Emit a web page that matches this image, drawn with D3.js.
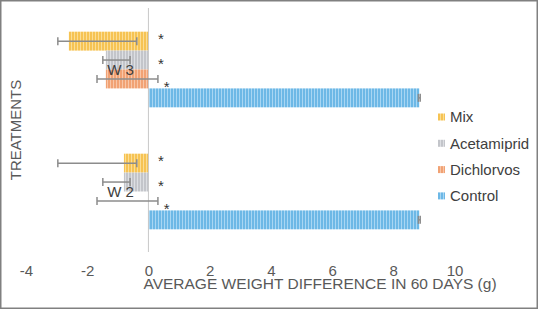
<!DOCTYPE html>
<html>
<head>
<meta charset="utf-8">
<script src="https://cdn.jsdelivr.net/npm/d3@7"></script>
<style>
body { margin: 0; background: #fff; }
text { font-family: "Liberation Sans", Arial, sans-serif; }
</style>
</head>
<body>
<div id="chart"></div>
<script>
// Data
var groups = ["W 3", "W 2"];
var series = ["Mix", "Acetamiprid", "Dichlorvos", "Control"];
var w3Values = [-2.6, -1.39, -1.39, 8.85];
var w2Values = [-0.8, -0.8, 0, 8.85];
var w3ErrLow = [-2.96, -1.49, -1.68, 8.82];
var w3ErrHigh = [-0.38, -0.6, 0.31, 8.88];
var w2ErrLow = [-2.96, -1.49, -1.68, 8.82];
var w2ErrHigh = [-0.38, -0.6, 0.31, 8.88];
var starX = [0.41, 0.41, 0.6];   // where the "*" labels sit (x units)
var tickValues = [-4, -2, 0, 2, 4, 6, 8, 10];

var seriesColor = ["#F6C353", "#C3C5CA", "#F1A274", "#6DB8E6"];
var stripeColor = ["#FBDD95", "#DDDFE3", "#F8C6A8", "#A8D6F3"];

var w = 538;
var h = 309;

var rows = [];
groups.forEach(function(g, gi) {
  var vals = gi == 0 ? w3Values : w2Values;
  var lo = gi == 0 ? w3ErrLow : w2ErrLow;
  var hi = gi == 0 ? w3ErrHigh : w2ErrHigh;
  series.forEach(function(s, si) {
    rows.push({group: g, series: s, i: si, value: vals[si], lo: lo[si], hi: hi[si]});
  });
});

var svg = d3.select("#chart")
  .append("svg")
  .attr("width", w)
  .attr("height", h);

// stripe patterns for the bars
var defs = svg.append("defs");
series.forEach(function(s, i) {
  var p = defs.append("pattern")
    .attr("id", "pat" + i)
    .attr("patternUnits", "userSpaceOnUse")
    .attr("width", 3)
    .attr("height", 10);
  p.append("rect").attr("width", 3).attr("height", 10).attr("fill", seriesColor[i]);
  p.append("rect").attr("x", 2).attr("width", 1).attr("height", 10).attr("fill", stripeColor[i]);
});

//Scales
var xScale = d3.scaleLinear()
  .domain([-4, 10])
  .range([26, 454.5]);

var yScale = d3.scaleBand()
  .domain(groups)
  .range([8.5, 252.5])
  .paddingInner(0.38)
  .paddingOuter(0.19);

var ySub = d3.scaleBand()
  .domain(series)
  .range([0, yScale.bandwidth()])
  .padding(0);

// outer frame
svg.append("rect")
  .attr("x", 0.75).attr("y", 0.75)
  .attr("width", w - 1.5).attr("height", h - 1.5)
  .attr("fill", "none")
  .attr("stroke", "#808080")
  .attr("stroke-width", 1.5);

//Bars
svg.selectAll(".bar")
  .data(rows)
  .enter()
  .append("rect")
  .attr("class", "bar")
  .attr("x", function(d) { return xScale(Math.min(0, d.value)); })
  .attr("y", function(d) { return yScale(d.group) + ySub(d.series); })
  .attr("width", function(d) { return Math.abs(xScale(d.value) - xScale(0)); })
  .attr("height", ySub.bandwidth())
  .attr("fill", function(d) { return "url(#pat" + d.i + ")"; });

// category labels next to the zero axis
svg.selectAll(".cat")
  .data(groups)
  .enter()
  .append("text")
  .attr("x", xScale(0) - 14.5)
  .attr("y", function(d) { return yScale(d) + yScale.bandwidth() / 2; })
  .attr("dy", "0.35em")
  .attr("text-anchor", "end")
  .attr("font-size", "15px")
  .attr("fill", "#404040")
  .text(function(d) { return d; });

// zero axis line
svg.append("line")
  .attr("x1", xScale(0)).attr("x2", xScale(0))
  .attr("y1", 8).attr("y2", 252)
  .attr("stroke", "#C8C8C8")
  .attr("stroke-width", 1);

//Error bars
var eb = svg.selectAll(".err")
  .data(rows)
  .enter()
  .append("g")
  .attr("class", "err")
  .attr("transform", function(d) { return "translate(0," + (yScale(d.group) + ySub(d.series) + ySub.bandwidth() / 2) + ")"; });

eb.append("line")
  .attr("x1", function(d) { return xScale(d.lo); })
  .attr("x2", function(d) { return xScale(d.hi); })
  .attr("stroke", "#8C8C8C")
  .attr("stroke-width", 1.5);
eb.append("line")
  .attr("x1", function(d) { return xScale(d.lo); })
  .attr("x2", function(d) { return xScale(d.lo); })
  .attr("y1", -4).attr("y2", 4)
  .attr("stroke", "#8C8C8C")
  .attr("stroke-width", 1.5);
eb.append("line")
  .attr("x1", function(d) { return xScale(d.hi); })
  .attr("x2", function(d) { return xScale(d.hi); })
  .attr("y1", -4).attr("y2", 4)
  .attr("stroke", "#8C8C8C")
  .attr("stroke-width", 1.5);

// significance stars
var starDy = [-5.5, 0.5, 5];
svg.selectAll(".star")
  .data(rows.filter(function(d) { return d.i < 3; }))
  .enter()
  .append("text")
  .attr("class", "star")
  .attr("x", function(d) { return xScale(starX[d.i]); })
  .attr("y", function(d) { return yScale(d.group) + ySub(d.series) + ySub.bandwidth() / 2 + starDy[d.i] + 8.5; })
  .attr("text-anchor", "middle")
  .attr("font-size", "15px")
  .attr("fill", "#333")
  .text("*");

//X axis
var xAxis = d3.axisBottom(xScale)
  .tickValues(tickValues)
  .tickSize(0)
  .tickPadding(3)
  .tickFormat(function(d) { return String(d); });

var gx = svg.append("g")
  .attr("transform", "translate(0,262)")
  .call(xAxis);
gx.select(".domain").remove();
gx.selectAll("text")
  .attr("font-size", "15px")
  .attr("font-family", "Liberation Sans, Arial, sans-serif")
  .attr("fill", "#595959");

// axis titles
svg.append("text")
  .attr("x", 320)
  .attr("y", 289)
  .attr("text-anchor", "middle")
  .attr("font-size", "15.5px")
  .attr("fill", "#595959")
  .text("AVERAGE WEIGHT DIFFERENCE IN 60 DAYS (g)");

svg.append("text")
  .attr("transform", "translate(21,130) rotate(-90)")
  .attr("text-anchor", "middle")
  .attr("font-size", "15px")
  .attr("fill", "#595959")
  .text("TREATMENTS");

//Legend
var legend = svg.selectAll(".legend")
  .data(series)
  .enter()
  .append("g")
  .attr("class", "legend")
  .attr("transform", function(d, i) { return "translate(438," + (117 + i * 26.3) + ")"; });

legend.append("rect")
  .attr("x", 0).attr("y", -3.5)
  .attr("width", 7).attr("height", 7)
  .attr("fill", function(d, i) { return "url(#pat" + i + ")"; });

legend.append("text")
  .attr("x", 12)
  .attr("dy", "0.35em")
  .attr("font-size", "15px")
  .attr("fill", "#404040")
  .text(function(d) { return d; });
</script>
</body>
</html>
